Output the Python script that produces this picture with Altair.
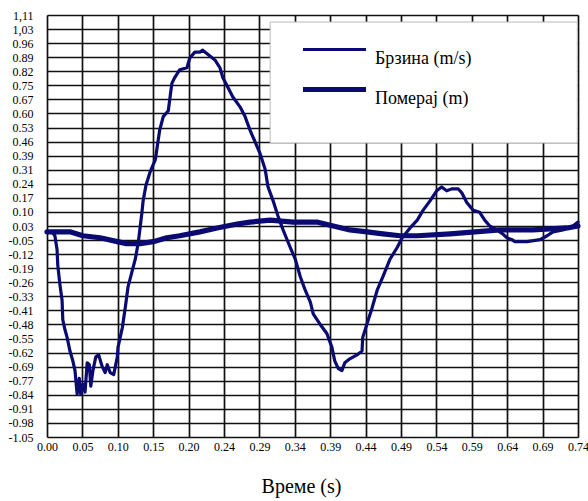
import altair as alt
import pandas as pd
import numpy as np

# ---- data ----
vel_t = [0.000,0.007,0.011,0.014,0.015,0.018,0.021,0.022,0.025,0.028,0.032,0.036,0.039,0.042,0.045,0.047,
         0.050,0.053,0.056,0.059,0.061,0.064,0.068,0.072,0.077,0.081,0.084,0.088,0.093,0.098,0.099,0.105,
         0.109,0.113,0.118,0.123,0.127,0.130,0.132,0.134,0.138,0.144,0.151,0.157,0.162,0.169,0.174,0.178,
         0.185,0.195,0.199,0.206,0.213,0.217,0.227,0.234,0.241,0.245,0.252,0.259,0.269,0.276,0.283,0.290,
         0.297,0.304,0.308,0.315,0.322,0.329,0.339,0.346,0.353,0.360,0.367,0.371,0.380,0.390,0.397,0.401,
         0.406,0.411,0.415,0.422,0.432,0.439,0.440,0.446,0.453,0.460,0.468,0.478,0.488,0.495,0.506,0.516,
         0.524,0.534,0.543,0.550,0.557,0.564,0.573,0.578,0.585,0.594,0.603,0.610,0.617,0.627,0.635,0.641,
         0.648,0.652,0.669,0.687,0.697,0.705,0.719,0.733,0.740]
vel_v = [0.00,0.00,-0.02,-0.09,-0.17,-0.27,-0.35,-0.45,-0.50,-0.54,-0.61,-0.66,-0.71,-0.83,-0.75,-0.83,
         -0.78,-0.82,-0.67,-0.68,-0.79,-0.71,-0.64,-0.63,-0.69,-0.72,-0.68,-0.72,-0.73,-0.64,-0.59,-0.49,
         -0.39,-0.28,-0.21,-0.14,-0.06,0.03,0.09,0.16,0.24,0.31,0.37,0.52,0.59,0.62,0.76,0.79,
         0.83,0.84,0.89,0.92,0.92,0.93,0.90,0.88,0.84,0.79,0.74,0.69,0.64,0.59,0.52,0.46,
         0.40,0.32,0.23,0.16,0.08,0.01,-0.08,-0.14,-0.23,-0.30,-0.36,-0.42,-0.47,-0.52,-0.59,-0.66,
         -0.70,-0.71,-0.67,-0.65,-0.63,-0.61,-0.54,-0.47,-0.39,-0.30,-0.23,-0.14,-0.08,-0.03,0.02,0.06,
         0.11,0.16,0.21,0.23,0.21,0.22,0.22,0.20,0.15,0.11,0.10,0.06,0.03,0.01,-0.01,-0.03,
         -0.04,-0.05,-0.05,-0.04,-0.02,0.00,0.01,0.03,0.05]

disp_t = [0.000,0.032,0.050,0.074,0.098,0.111,0.130,0.148,0.167,0.185,0.213,0.237,0.265,0.283,
          0.311,0.343,0.376,0.399,0.422,0.446,0.468,0.492,0.516,0.562,0.631,0.677,0.725,0.740]
disp_v = [0.00,0.00,-0.02,-0.03,-0.05,-0.06,-0.06,-0.05,-0.03,-0.02,0.00,0.02,0.04,0.05,
          0.06,0.05,0.05,0.03,0.01,0.00,-0.01,-0.02,-0.02,-0.01,0.01,0.01,0.02,0.03]

series_names = ["Брзина (m/s)", "Померај  (m)"]

y_labels = ["1,11","1,03","0.96","0.89","0.82","0.75","0.67","0.60","0.53","0.46","0.39","0.31",
            "0.24","0.17","0.10","0.03","-0.05","-0.12","-0.19","-0.26","-0.33","-0.41","-0.48",
            "-0.55","-0.62","-0.69","-0.77","-0.84","-0.91","-0.98","-1.05"]
x_labels = ["0.00","0.05","0.10","0.15","0.20","0.24","0.29","0.34","0.39","0.44","0.49","0.54",
            "0.59","0.64","0.69","0.74"]

# ---- build table ----
df = pd.concat([
    pd.DataFrame({"t": vel_t, "v": vel_v, "series": series_names[0], "order": range(len(vel_t))}),
    pd.DataFrame({"t": disp_t, "v": disp_v, "series": series_names[1], "order": range(len(disp_t))}),
])

Y_MIN, Y_MAX = -1.05, 1.11
X_MIN, X_MAX = 0.0, 0.74
y_step = (Y_MAX - Y_MIN) / (len(y_labels) - 1)
x_step = (X_MAX - X_MIN) / (len(x_labels) - 1)
y_ticks = [round(Y_MIN + y_step * k, 5) for k in range(len(y_labels))]
x_ticks = [round(X_MIN + x_step * k, 5) for k in range(len(x_labels))]

y_labels_bottom_up = list(reversed(y_labels))
y_expr = "[" + ",".join("'%s'" % s for s in y_labels_bottom_up) + "][round((datum.value - (%s)) / %s)]" % (Y_MIN, y_step)
x_expr = "[" + ",".join("'%s'" % s for s in x_labels) + "][round((datum.value - (%s)) / %s)]" % (X_MIN, x_step)

FONT = "Liberation Serif, Times New Roman, serif"
NAVY = "#0a0a72"

x_scale = alt.Scale(domain=[X_MIN, X_MAX], nice=False, zero=False)
y_scale = alt.Scale(domain=[Y_MIN, Y_MAX], nice=False, zero=False)

x_axis = alt.Axis(values=x_ticks, labelExpr=x_expr, title="Време (s)", ticks=False, domain=False,
                  grid=True, gridColor="#111111", gridWidth=1.7, gridOpacity=1,
                  labelFont=FONT, labelFontSize=12, labelColor="black", labelPadding=4,
                  labelFlush=False, labelOverlap=False,
                  titleFont=FONT, titleFontSize=20, titleFontWeight="normal", titleColor="black",
                  titleX=254, titleY=49, titleBaseline="middle")
y_axis = alt.Axis(values=y_ticks, labelExpr=y_expr, title=None, ticks=False, domain=False,
                  grid=True, gridColor="#111111", gridWidth=1.7, gridOpacity=1,
                  labelFont=FONT, labelFontSize=12, labelColor="black", labelPadding=14,
                  labelFlush=False, labelOverlap=False)

# legend background box (in data units)
box = pd.DataFrame({"t0": [0.311], "t1": [0.739], "v0": [0.455], "v1": [1.074]})
box_layer = alt.Chart(box).mark_rect(fill="white", stroke="#bbbbbb", strokeWidth=1).encode(
    x=alt.X("t0:Q", scale=x_scale, axis=x_axis),
    x2="t1:Q",
    y=alt.Y("v0:Q", scale=y_scale, axis=y_axis),
    y2="v1:Q",
)

legend_opts = dict(title=None, orient="none", legendX=274, legendY=22,
                   symbolType="M-3,0L3,0", symbolSize=441,
                   labelFont=FONT, labelFontSize=18, labelColor="black",
                   labelOffset=27, labelBaseline="top", rowPadding=8,
                   padding=0, labelLimit=300)

lines = alt.Chart(df).mark_line(strokeJoin="round", strokeCap="round").encode(
    x=alt.X("t:Q", scale=x_scale, axis=x_axis),
    y=alt.Y("v:Q", scale=y_scale, axis=y_axis),
    color=alt.Color("series:N", scale=alt.Scale(domain=series_names, range=[NAVY, NAVY]),
                    legend=alt.Legend(**legend_opts)),
    strokeWidth=alt.StrokeWidth("series:N", scale=alt.Scale(domain=series_names, range=[3.2, 5.2]),
                                legend=alt.Legend(**legend_opts)),
    order="order:Q",
)

chart = alt.layer(box_layer, lines).properties(
    width=531, height=422,
    autosize=alt.AutoSizeParams(type="none"),
    padding={"left": 47, "top": 15, "right": 10, "bottom": 64},
    background="white",
).configure_view(stroke="#111111", strokeWidth=2).configure(font=FONT)

chart.save("out.html", embed_options={"renderer": "svg", "actions": False})
